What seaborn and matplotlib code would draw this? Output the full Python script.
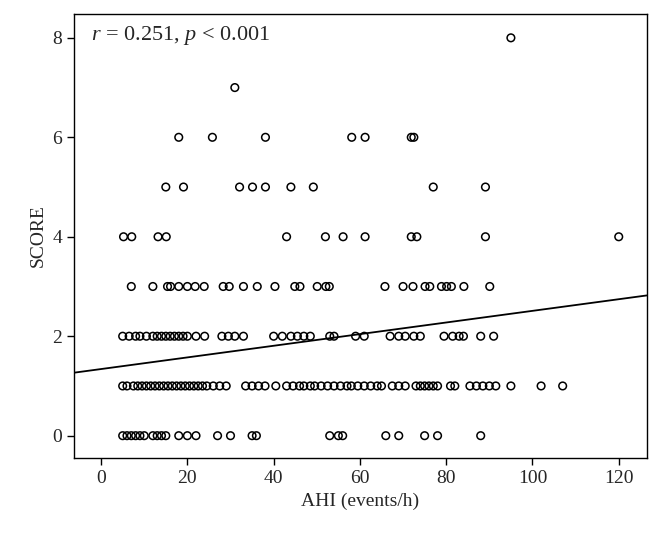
import matplotlib
matplotlib.use("Agg")
import matplotlib.pyplot as plt
import seaborn as sns
import pandas as pd
import numpy as np

# AHI values, one list per SCORE row
ahi_score0 = [5, 6, 7, 8, 9, 10, 12, 13, 14, 15, 18, 20, 22, 27, 30, 35, 36,
              53, 55, 56, 66, 69, 75, 78, 88]
ahi_score1 = [5, 6, 7.5, 8.5, 9.5, 10.5, 11.5, 12.5, 13.5, 14.5, 15.5, 16.5,
              17.5, 18.5, 19.5, 20.5, 21.5, 22.5, 23.5, 24.5, 26, 27.5, 29,
              33.5, 35, 36.5, 38, 40.5, 43, 44.5, 46, 47, 48.5, 49.5, 51, 52.5,
              54, 55.5, 57, 58, 59.5, 61, 62.5, 64, 65, 67.5, 69, 70.5, 73, 74,
              75, 76, 77, 78, 81, 82, 85.5, 87, 88.5, 90, 91.5, 95, 102, 107]
ahi_score2 = [5, 6.5, 8, 9, 10.5, 12, 13, 14, 15, 16, 17, 18, 19, 20, 22, 24,
              28, 29.5, 31, 33, 40, 42, 44, 45.5, 47, 48.5, 53, 54, 59, 61, 67,
              69, 70.5, 72.5, 74, 79.5, 81.5, 83, 84, 88, 91]
ahi_score3 = [7, 12, 15.4, 16.1, 18, 20, 21.8, 23.9, 28.3, 29.7, 33, 36.2, 40.3,
              44.9, 46.1, 50.1, 52.1, 52.9, 65.8, 70, 72.3, 75.1, 76.2, 78.9,
              80.1, 81.2, 84.1, 90.1]
ahi_score4 = [5.2, 7.1, 13.2, 15.1, 43, 52, 56.1, 61.2, 71.9, 73.2, 89.1, 120]
ahi_score5 = [15, 19.1, 32.1, 35.1, 38.1, 44, 49.2, 77, 89.1]
ahi_score6 = [18, 25.8, 38.1, 58.1, 61.2, 71.9, 72.5]
ahi_score7 = [31]
ahi_score8 = [95]

# fitted line as drawn in the figure
fit_intercept = 1.34
fit_slope = 0.0117

rows = [ahi_score0, ahi_score1, ahi_score2, ahi_score3, ahi_score4,
        ahi_score5, ahi_score6, ahi_score7, ahi_score8]
df = pd.DataFrame({
    'AHI': [a for row in rows for a in row],
    'SCORE': [s for s, row in enumerate(rows) for _ in row],
})

sns.set_style('ticks')
plt.rcParams['font.family'] = ['Liberation Serif', 'DejaVu Serif']
plt.rcParams['mathtext.fontset'] = 'custom'
plt.rcParams['mathtext.rm'] = 'Liberation Serif'
plt.rcParams['mathtext.it'] = 'Liberation Serif:italic'

fig = plt.figure(figsize=(6.62, 5.37), dpi=100)
ax = fig.add_axes([0.112, 0.147, 0.865, 0.827])

sns.scatterplot(data=df, x='AHI', y='SCORE', ax=ax, s=30,
                facecolors='none', edgecolor='black', linewidth=1.1)
ax.axline((0, fit_intercept), slope=fit_slope, color='black', lw=1.3)

ax.set_xlim(-6.25, 126.5)
ax.set_ylim(-0.45, 8.48)
ax.set_xticks(range(0, 121, 20))
ax.set_yticks(range(0, 9, 2))
ax.set_xlabel('AHI (events/h)', fontsize=14)
ax.set_ylabel('SCORE', fontsize=14)
ax.tick_params(labelsize=14, length=5, width=1, color='black')
for s in ax.spines.values():
    s.set_visible(True)
    s.set_color('black')
    s.set_linewidth(1)

ax.text(0.03, 0.978, '$r$ = 0.251, $p$ < 0.001', transform=ax.transAxes,
        ha='left', va='top', fontsize=16)

fig.savefig('out.png', dpi=100)
